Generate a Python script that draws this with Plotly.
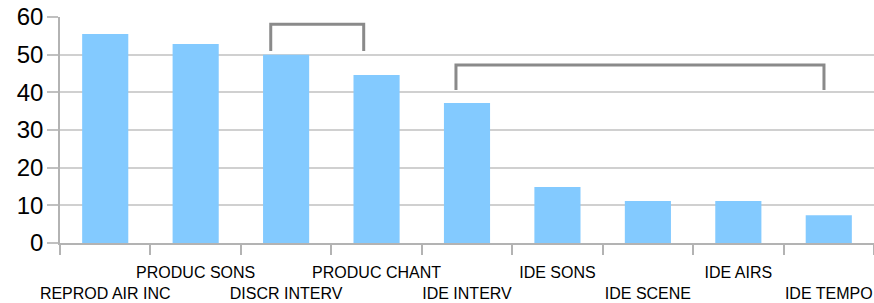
import plotly.graph_objects as go

categories = ["REPROD AIR INC", "PRODUC SONS", "DISCR INTERV", "PRODUC CHANT",
              "IDE INTERV", "IDE SONS", "IDE SCENE", "IDE AIRS", "IDE TEMPO"]
values = [55.5, 52.8, 50.0, 44.6, 37.2, 14.9, 11.15, 11.15, 7.4]
y_ticks = [0, 10, 20, 30, 40, 50, 60]

# brackets (category-index x, value y)
bracket_x0 = [1.83, 3.878]
bracket_x1 = [2.858, 7.947]
bracket_top = [58.1, 47.25]
bracket_bottom = [51.0, 40.6]

ticktext = [(" <br>" + c) if i % 2 == 0 else c for i, c in enumerate(categories)]

fig = go.Figure()
fig.add_trace(go.Bar(x=categories, y=values, marker=dict(color="#83caff", line=dict(width=0)),
                     showlegend=False, hoverinfo="x+y"))

for x0, x1, yt, yb in zip(bracket_x0, bracket_x1, bracket_top, bracket_bottom):
    fig.add_shape(type="path", xref="x", yref="y",
                  path=f"M {x0},{yb} L {x0},{yt} L {x1},{yt} L {x1},{yb}",
                  line=dict(color="#8a8a8a", width=3))

fig.update_layout(
    width=874, height=303,
    margin=dict(l=60, r=0, t=17, b=60),
    paper_bgcolor="white", plot_bgcolor="white",
    bargap=0.49,
    font=dict(family="Liberation Sans, Arial, sans-serif", color="black"),
)
fig.update_xaxes(
    type="category", range=[-0.5, 8.5], automargin=False,
    tickmode="array", tickvals=categories, ticktext=ticktext,
    tickson="boundaries", ticks="outside", ticklen=10, tickcolor="#b3b3b3", tickwidth=1.5,
    ticklabelstandoff=14, ticklabeloverflow="allow",
    showline=True, linecolor="#b3b3b3", linewidth=1.5,
    showgrid=False, tickfont=dict(size=16, color="black"), tickangle=0,
)
fig.update_yaxes(
    range=[0, 60], tickvals=y_ticks, automargin=False,
    ticks="outside", ticklen=11, tickcolor="#c0c0c0", tickwidth=1.5,
    ticklabelstandoff=-1, ticklabeloverflow="allow",
    showline=True, linecolor="#b3b3b3", linewidth=1.5,
    showgrid=True, gridcolor="#d0d0d0", gridwidth=1.5,
    zeroline=False, tickfont=dict(size=24, color="black"),
)

fig.write_html("out.html", config={"displayModeBar": False},
               post_script="document.body.style.margin='0';")
